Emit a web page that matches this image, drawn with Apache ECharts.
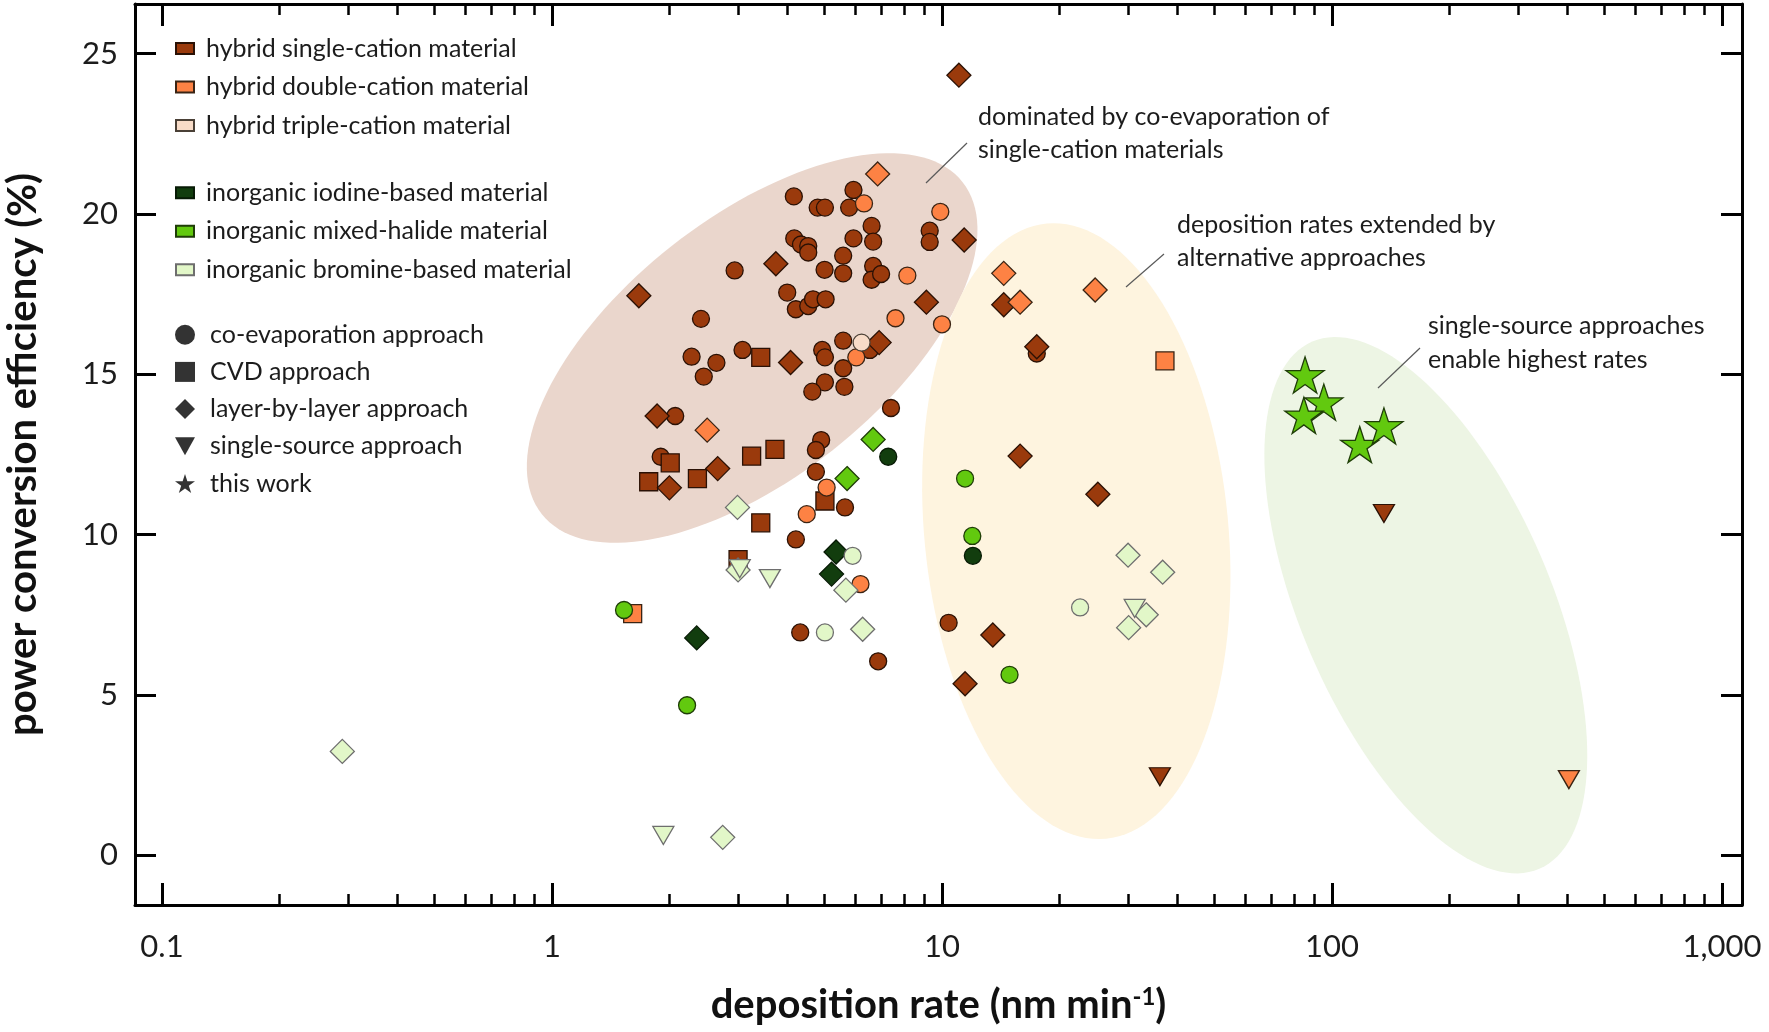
<!DOCTYPE html>
<html>
<head>
<meta charset="utf-8">
<title>PCE vs deposition rate</title>
<script src="https://cdn.jsdelivr.net/npm/echarts@6/dist/echarts.min.js"></script>
<style>
  html, body { margin: 0; padding: 0; background: #fff; }
  #chart { width: 1769px; height: 1032px; }
</style>
</head>
<body>
<div id="chart"></div>
<script>
// [deposition rate (nm/min), power conversion efficiency (%)]
const hybridSingleCoEvap = [
  [4.17, 20.55], [4.80, 20.2], [5.01, 20.2], [5.93, 20.75], [5.78, 20.2], [6.6, 19.63],
  [6.66, 19.14], [5.93, 19.24], [4.18, 19.24], [4.35, 19.05], [4.54, 19.0], [4.54, 18.8],
  [2.94, 18.24], [5.58, 18.7], [5.0, 18.26], [5.58, 18.15], [6.66, 18.38], [6.6, 17.95],
  [6.98, 18.13], [4.01, 17.55], [4.22, 17.03], [4.54, 17.13], [4.67, 17.34], [5.03, 17.34],
  [2.41, 16.73], [5.58, 16.05], [4.93, 15.76], [5.01, 15.53], [5.58, 15.19], [5.01, 14.75],
  [4.65, 14.46], [5.62, 14.61], [6.53, 15.76], [2.28, 15.55], [2.64, 15.36], [2.45, 14.93],
  [3.08, 15.76], [7.4, 13.95], [2.07, 13.7], [4.9, 12.95], [4.75, 12.64], [1.9, 12.43],
  [4.75, 11.96], [5.64, 10.85], [4.22, 9.85], [4.33, 6.95], [6.86, 6.05], [9.3, 19.48],
  [9.3, 19.13], [17.5, 15.65], [10.4, 7.25]
];
const hybridSingleCVD = [
  [1.77, 11.65], [2.01, 12.24], [2.36, 11.75], [3.25, 12.45], [3.73, 12.66],
  [3.43, 10.37], [3.43, 15.53], [3.0, 9.22], [5.01, 11.05]
];
const hybridSingleLBL = [
  [1.67, 17.45], [1.86, 13.7], [2.0, 11.46], [2.66, 12.06], [3.75, 18.45], [4.09, 15.37],
  [6.9, 15.99], [9.12, 17.25], [11.4, 19.19], [11.05, 24.33], [14.4, 17.17], [17.5, 15.86],
  [15.86, 12.45], [25.1, 11.26], [13.5, 6.87], [11.46, 5.35]
];
const hybridSingleSS = [[135.9, 10.66], [36.2, 2.45]];

const hybridDoubleCoEvap = [
  [6.31, 20.33], [7.6, 16.75], [8.15, 18.08], [10.0, 16.56], [9.9, 20.07],
  [6.03, 15.53], [5.06, 11.47], [4.5, 10.64], [6.18, 8.46]
];
const hybridDoubleCVD = [[1.61, 7.54], [37.3, 15.42]];
const hybridDoubleLBL = [[6.84, 21.25], [2.5, 13.26], [14.4, 18.15], [15.86, 17.25], [24.7, 17.63]];
const hybridDoubleSS = [[405, 2.36]];

const hybridTripleCoEvap = [[6.22, 15.99]];

const iodineCoEvap = [[7.28, 12.43], [12.0, 9.34]];
const iodineLBL = [[5.35, 9.46], [5.21, 8.77], [2.35, 6.78]];

const mixedCoEvap = [[11.46, 11.75], [11.96, 9.96], [1.53, 7.65], [2.22, 4.68], [14.9, 5.63]];
const mixedLBL = [[6.66, 12.97], [5.71, 11.75]];
const mixedThisWork = [[85.3, 14.98], [95.3, 14.13], [84.7, 13.72], [117.8, 12.81], [135.9, 13.39]];

const bromineCoEvap = [[5.9, 9.34], [5.01, 6.95], [22.6, 7.73]];
const bromineLBL = [
  [2.99, 10.85], [3.0, 8.9], [5.67, 8.27], [6.26, 7.05], [30, 9.36], [36.8, 8.83],
  [33.4, 7.5], [30.1, 7.1], [0.29, 3.24], [2.74, 0.56]
];
const bromineSS = [[3.03, 8.94], [3.62, 8.63], [31.2, 7.7], [1.93, 0.62]];

// shaded regions: centre [rate, PCE]
const regionCentres = [[3.26, 15.82], [22.1, 10.11], [174, 7.8]];

const xTickValues = [0.1, 1, 10, 100, 1000];
const xTickLabels = ['0.1', '1', '10', '100', '1,000'];
const xMinorValues = [
  0.2, 0.3, 0.4, 0.5, 0.6, 0.7, 0.8, 0.9,
  2, 3, 4, 5, 6, 7, 8, 9,
  20, 30, 40, 50, 60, 70, 80, 90,
  200, 300, 400, 500, 600, 700, 800, 900
];
const yTickValues = [0, 5, 10, 15, 20, 25];

const materialNames = [
  'hybrid single-cation material', 'hybrid double-cation material', 'hybrid triple-cation material',
  'inorganic iodine-based material', 'inorganic mixed-halide material', 'inorganic bromine-based material'
];
const approachNames = ['co-evaporation approach', 'CVD approach', 'layer-by-layer approach', 'single-source approach', 'this work'];

// ---- styling ----
const FONT = 'Lato, "Open Sans", sans-serif';
const TEXT = '#1c1c1c';
const STAR = 'path://M50,0L61.23,34.55L97.55,34.55L68.16,55.9L79.39,90.45L50,69.1L20.61,90.45L31.84,55.9L2.45,34.55L38.77,34.55Z';
const DOWN_TRIANGLE = 'path://M0,0L20,0L10,18Z';
const SHAPES = {
  co: { symbol: 'circle', size: 17, rotate: 0 },
  cvd: { symbol: 'rect', size: 18, rotate: 0 },
  lbl: { symbol: 'diamond', size: 24, rotate: 0 },
  ss: { symbol: 'triangle', size: [21, 18], rotate: 180 },
  star: { symbol: STAR, size: 38, rotate: 0 }
};
const MATERIAL_STYLE = [
  { color: '#9a3a0c', borderColor: '#2a1105' },
  { color: '#fd8244', borderColor: '#3a2414' },
  { color: '#f8dcc8', borderColor: '#4a4036' },
  { color: '#123d0e', borderColor: '#071a05' },
  { color: '#62c90f', borderColor: '#1f3d08' },
  { color: '#e2f7c8', borderColor: '#6e6e6e' }
];
const REGION_STYLE = [
  { rx: 268, ry: 130, angle: -38.25, color: '#ead6cc' },
  { rx: 309, ry: 152, angle: 84.5, color: '#fef4df' },
  { rx: 287, ry: 125, angle: 66.7, color: '#edf5e4' }
];

const lg = v => Math.log10(v);
const X_MIN = -1.0692, X_MAX = 3.0513;
const Y_MIN = -1.55, Y_MAX = 26.55;

function pts(arr, shape) {
  const s = SHAPES[shape];
  return arr.map(p => ({ value: [lg(p[0]), p[1]], symbol: s.symbol, symbolSize: s.size, symbolRotate: s.rotate }));
}

const materialData = [
  [].concat(pts(hybridSingleCoEvap, 'co'), pts(hybridSingleCVD, 'cvd'), pts(hybridSingleLBL, 'lbl'), pts(hybridSingleSS, 'ss')),
  [].concat(pts(hybridDoubleCoEvap, 'co'), pts(hybridDoubleCVD, 'cvd'), pts(hybridDoubleLBL, 'lbl'), pts(hybridDoubleSS, 'ss')),
  pts(hybridTripleCoEvap, 'co'),
  [].concat(pts(iodineCoEvap, 'co'), pts(iodineLBL, 'lbl')),
  [].concat(pts(mixedCoEvap, 'co'), pts(mixedLBL, 'lbl'), pts(mixedThisWork, 'star')),
  [].concat(pts(bromineCoEvap, 'co'), pts(bromineLBL, 'lbl'), pts(bromineSS, 'ss'))
];

const series = [];
series.push({
  type: 'custom',
  name: 'regions',
  silent: true,
  z: 1,
  data: regionCentres.map(c => [lg(c[0]), c[1]]),
  renderItem: (params, api) => {
    const e = REGION_STYLE[params.dataIndex];
    const c = api.coord([api.value(0), api.value(1)]);
    const th = e.angle * Math.PI / 180;
    const points = [];
    for (let i = 0; i < 144; i++) {
      const t = i / 144 * 2 * Math.PI;
      points.push([
        c[0] + e.rx * Math.cos(t) * Math.cos(th) - e.ry * Math.sin(t) * Math.sin(th),
        c[1] + e.rx * Math.cos(t) * Math.sin(th) + e.ry * Math.sin(t) * Math.cos(th)
      ]);
    }
    return { type: 'polygon', shape: { points }, style: { fill: e.color } };
  }
});

materialNames.forEach((name, i) => {
  series.push({
    name,
    type: 'scatter',
    z: 3,
    symbolKeepAspect: true,
    data: materialData[i],
    itemStyle: { color: MATERIAL_STYLE[i].color, borderColor: MATERIAL_STYLE[i].borderColor, borderWidth: 1.3, opacity: 1 }
  });
});

// legend entries for the deposition approach (shape only)
['co', 'cvd', 'lbl', 'ss', 'star'].forEach((k, i) => {
  series.push({
    name: approachNames[i],
    type: 'scatter',
    data: [],
    symbol: SHAPES[k].symbol,
    symbolRotate: SHAPES[k].rotate,
    symbolKeepAspect: true,
    itemStyle: { color: '#000' }
  });
});

const legendText = { fontFamily: FONT, fontSize: 25, color: TEXT, lineHeight: 27 };
function legendBlock(items, top, gap, w, h, pad) {
  return {
    orient: 'vertical',
    left: 175,
    top,
    itemGap: gap,
    itemWidth: w,
    itemHeight: h,
    selectedMode: false,
    padding: 0,
    data: items,
    textStyle: Object.assign({ padding: [0, 0, 0, pad] }, legendText)
  };
}
const rectItems = names => names.map(n => ({ name: n, icon: 'rect' }));
const approachItems = approachNames.map((n, i) => (i === 3 ? { name: n, icon: DOWN_TRIANGLE } : { name: n }));

const axisLineStyle = { color: '#000', width: 3 };
const tickLabelStyle = { fontFamily: FONT, fontSize: 31, color: TEXT };

function xAxisDef(position, major, showLabel) {
  const values = (major ? xTickValues : xMinorValues).map(lg);
  return {
    type: 'value',
    position,
    min: X_MIN,
    max: X_MAX,
    axisLine: { show: major, onZero: false, lineStyle: axisLineStyle },
    axisTick: { show: true, inside: true, length: major ? 22 : 11, lineStyle: { color: '#000', width: major ? 3 : 2.5 }, customValues: values },
    axisLabel: {
      show: showLabel,
      customValues: values,
      margin: 26,
      formatter: v => xTickLabels[xTickValues.findIndex(t => Math.abs(lg(t) - v) < 1e-6)],
      ...tickLabelStyle
    },
    splitLine: { show: false }
  };
}

const xAxes = [
  Object.assign(xAxisDef('bottom', true, true), {
    name: '{a|deposition rate (nm min}{s|-1}{a|)}',
    nameLocation: 'middle',
    nameGap: 80,
    nameTextStyle: {
      rich: {
        a: { fontFamily: FONT, fontSize: 40, fontWeight: 'bold', color: '#111' },
        s: { fontFamily: FONT, fontSize: 24, fontWeight: 'bold', color: '#111', verticalAlign: 'top', padding: [0, 0, 16, 0] }
      }
    }
  }),
  xAxisDef('bottom', false, false),
  xAxisDef('top', true, false),
  xAxisDef('top', false, false)
];

function yAxisDef(position, showLabel) {
  return {
    type: 'value',
    position,
    min: Y_MIN,
    max: Y_MAX,
    axisLine: { show: true, onZero: false, lineStyle: axisLineStyle },
    axisTick: { show: true, inside: true, length: 21, lineStyle: { color: '#000', width: 3 }, customValues: yTickValues },
    axisLabel: { show: showLabel, customValues: yTickValues, margin: 17, ...tickLabelStyle },
    splitLine: { show: false }
  };
}

const yAxes = [
  Object.assign(yAxisDef('left', true), {
    name: 'power conversion efficiency (%)',
    nameLocation: 'middle',
    nameGap: 92,
    nameTextStyle: { fontFamily: FONT, fontSize: 40, fontWeight: 'bold', color: '#111' }
  }),
  yAxisDef('right', false)
];

const noteStyle = { fontFamily: FONT, fontSize: 25, fill: TEXT, verticalAlign: 'top' };
const leader = { stroke: '#5a5a5a', lineWidth: 1.2 };

const option = {
  animation: false,
  backgroundColor: '#fff',
  grid: { left: 135, right: 27, top: 4, bottom: 127, containLabel: false, outerBoundsMode: 'none' },
  xAxis: xAxes,
  yAxis: yAxes,
  legend: [
    legendBlock(rectItems(materialNames.slice(0, 3)), 35, 11.5, 18, 11, 7),
    legendBlock(rectItems(materialNames.slice(3, 6)), 179.2, 11.5, 18, 11, 7),
    legendBlock(approachItems, 321.2, 10.2, 20, 20, 10)
  ],
  graphic: [
    { type: 'text', z: 10, x: 978, y: 100.5, style: Object.assign({ text: 'dominated by co-evaporation of\nsingle-cation materials', lineHeight: 33 }, noteStyle) },
    { type: 'line', z: 10, shape: { x1: 967, y1: 143, x2: 926, y2: 183 }, style: leader },
    { type: 'text', z: 10, x: 1177, y: 208.5, style: Object.assign({ text: 'deposition rates extended by\nalternative approaches', lineHeight: 33 }, noteStyle) },
    { type: 'line', z: 10, shape: { x1: 1164, y1: 254, x2: 1126, y2: 287 }, style: leader },
    { type: 'text', z: 10, x: 1428, y: 308.7, style: Object.assign({ text: 'single-source approaches\nenable highest rates', lineHeight: 34 }, noteStyle) },
    { type: 'line', z: 10, shape: { x1: 1420, y1: 348, x2: 1378, y2: 388 }, style: leader }
  ],
  series
};

const chart = echarts.init(document.getElementById('chart'));
chart.setOption(option);
window.addEventListener('resize', chart.resize);
</script>
</body>
</html>
